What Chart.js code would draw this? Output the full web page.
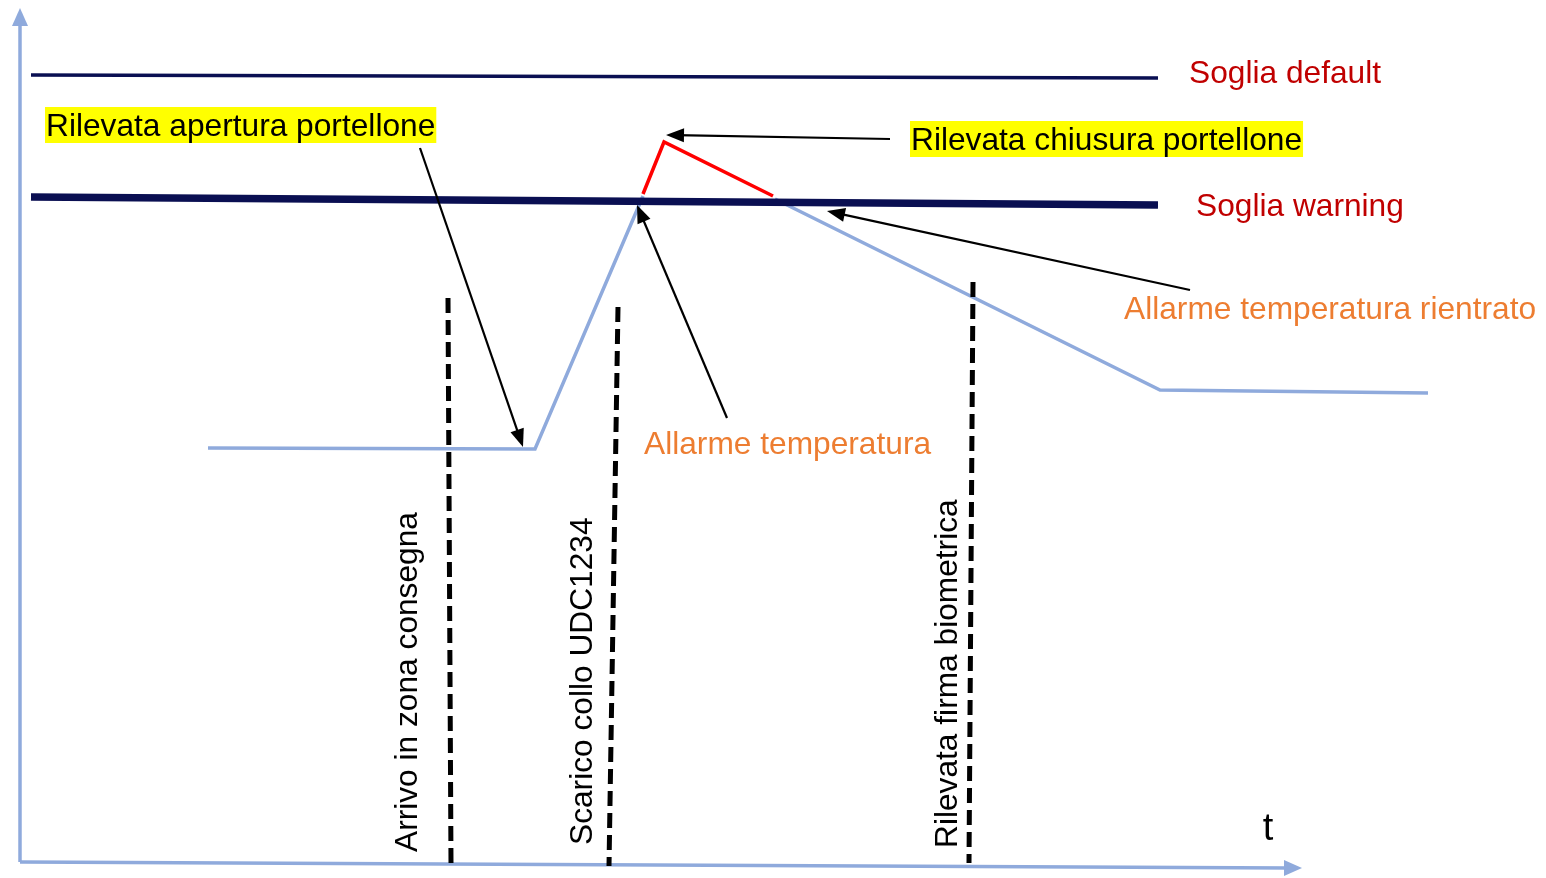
<!DOCTYPE html>
<html>
<head>
<meta charset="utf-8">
<script src="https://cdn.jsdelivr.net/npm/chart.js@4/dist/chart.umd.min.js"></script>
<style>
  html, body { margin: 0; padding: 0; background: #fff; }
  #wrap { width: 1546px; height: 878px; }
</style>
</head>
<body>
<div id="wrap"><canvas id="diagram"></canvas></div>
<script>
// time (x) / temperature (y, drawn top-down) in diagram units
const tempBefore = [[208, 448], [535, 449], [643, 196]]
const tempAfter = [[775, 199], [1160, 390], [1428, 393]]
const tempAlarm = [[643, 194], [664, 142], [773, 196]]
const sogliaDefault = [[31, 75], [1158, 78]]
const sogliaWarning = [[31, 197], [1158, 205]]
const yAxisLine = [[20, 862], [20, 20]]
const xAxisLine = [[20, 862], [1290, 868]]

const eventLabels = ["Arrivo in zona consegna", "Scarico collo UDC1234", "Rilevata firma biometrica"]
const eventTop = [[448, 298], [618, 307], [973, 282]]
const eventBottom = [[451, 864], [609, 866], [969, 863]]
const eventLabelPos = [[408, 852], [583, 845], [948, 848]]

// [text, x, y, color, highlight]
const notes = [
    ["Soglia default", 1189, 73, "#c00000", false],
    ["Soglia warning", 1196, 206, "#c00000", false],
    ["Rilevata apertura portellone", 46, 126, "#000000", true],
    ["Rilevata chiusura portellone", 911, 140, "#000000", true],
    ["Allarme temperatura rientrato", 1124, 309, "#ed7d31", false],
    ["Allarme temperatura", 644, 444, "#ed7d31", false],
]
// [fromX, fromY, toX, toY]
const arrows = [
    [420, 148, 523, 447],
    [890, 139, 666, 135],
    [727, 418, 637, 205],
    [1190, 290, 827, 211],
]

const pts = (arr) => arr.map((p) => ({ x: p[0], y: p[1] }))

function line(data, color, width, order, dash) {
    return {
        data: pts(data),
        showLine: true,
        borderColor: color,
        borderWidth: width,
        borderDash: dash || [],
        pointRadius: 0,
        fill: false,
        order: order,
    }
}

const datasets = [
    line(yAxisLine, "#8faadc", 3.5, 5),
    line(xAxisLine, "#8faadc", 3.5, 5),
    line(tempBefore, "#8faadc", 3.5, 4),
    line(tempAfter, "#8faadc", 3.5, 4),
    line(tempAlarm, "#ff0000", 3.5, 3),
    line(sogliaDefault, "#0a0f52", 3.5, 2),
    line(sogliaWarning, "#0a0f52", 7.5, 1),
]
eventTop.forEach((p, i) => {
    datasets.push(line([p, eventBottom[i]], "#000000", 5, 0, [15, 7]))
})

function head(ctx, x1, y1, x2, y2, len, wid, color) {
    const a = Math.atan2(y2 - y1, x2 - x1)
    ctx.save()
    ctx.fillStyle = color
    ctx.translate(x2, y2)
    ctx.rotate(a)
    ctx.beginPath()
    ctx.moveTo(0, 0)
    ctx.lineTo(-len, -wid / 2)
    ctx.lineTo(-len, wid / 2)
    ctx.closePath()
    ctx.fill()
    ctx.restore()
}

const annotations = {
    id: "annotations",
    afterDatasetsDraw(chart) {
        const ctx = chart.ctx
        const sx = chart.scales.x
        const sy = chart.scales.y
        const px = (v) => sx.getPixelForValue(v)
        const py = (v) => sy.getPixelForValue(v)

        // axis arrow heads
        head(ctx, px(20), py(40), px(20), py(8), 18, 16, "#8faadc")
        head(ctx, px(1280), py(868), px(1302), py(868), 18, 16, "#8faadc")

        // pointer arrows
        arrows.forEach((a) => {
            const [x1, y1, x2, y2] = [px(a[0]), py(a[1]), px(a[2]), py(a[3])]
            const ang = Math.atan2(y2 - y1, x2 - x1)
            ctx.save()
            ctx.strokeStyle = "#000"
            ctx.lineWidth = 2.2
            ctx.beginPath()
            ctx.moveTo(x1, y1)
            ctx.lineTo(x2 - Math.cos(ang) * 10, y2 - Math.sin(ang) * 10)
            ctx.stroke()
            ctx.restore()
            head(ctx, x1, y1, x2, y2, 18, 14, "#000")
        })

        ctx.save()
        ctx.font = "31.7px 'Liberation Sans', Arial, sans-serif"
        ctx.textBaseline = "middle"
        ctx.textAlign = "left"
        notes.forEach((n) => {
            const x = px(n[1])
            const y = py(n[2])
            if (n[4]) {
                const w = ctx.measureText(n[0]).width
                ctx.fillStyle = "#ffff00"
                ctx.fillRect(x - 1, y - 19, w + 2, 36)
            }
            ctx.fillStyle = n[3]
            ctx.fillText(n[0], x, y + 1)
        })

        // rotated event labels
        eventLabels.forEach((t, i) => {
            ctx.save()
            ctx.translate(px(eventLabelPos[i][0]), py(eventLabelPos[i][1]))
            ctx.rotate(-Math.PI / 2)
            ctx.fillStyle = "#000"
            ctx.fillText(t, 0, 0)
            ctx.restore()
        })

        ctx.font = "38px 'Liberation Sans', Arial, sans-serif"
        ctx.textAlign = "center"
        ctx.fillStyle = "#000"
        ctx.fillText("t", px(1268), py(830))
        ctx.restore()
    },
}

new Chart(document.getElementById("diagram").getContext("2d"), {
    type: "scatter",
    data: { datasets: datasets },
    options: {
        responsive: true,
        maintainAspectRatio: false,
        animation: false,
        layout: { padding: 0 },
        plugins: {
            legend: { display: false },
            tooltip: { enabled: false },
        },
        scales: {
            x: { type: "linear", min: 0, max: 1546, display: false },
            y: { type: "linear", min: 0, max: 878, reverse: true, display: false },
        },
    },
    plugins: [annotations],
})
</script>
</body>
</html>
